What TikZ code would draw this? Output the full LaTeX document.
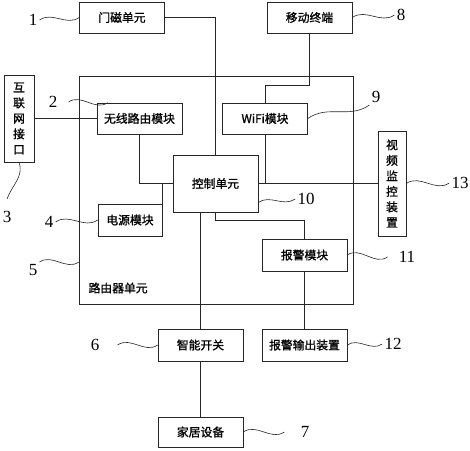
\documentclass[tikz,border=0pt]{standalone}
\usepackage{fontspec}
\setmainfont{Liberation Serif}
\newfontfamily\cjk{Noto Sans CJK SC}[FakeBold=1.2]
\usepackage{tikz}

\begin{document}
\begin{tikzpicture}[x=1pt,y=1pt,line width=0.6pt,
    box/.style={draw=black!85, minimum width=85pt, minimum height=31pt, inner sep=0pt, font=\cjk\fontsize{11.8}{15.5}\selectfont},
    num/.style={inner sep=2pt, font=\fontsize{17}{17}\selectfont},
    wave/.style={out=35,in=215}]
    \useasboundingbox (0,0) rectangle (470,450);
    \node [draw=black!85, minimum width=274pt, minimum height=228pt] (rt) at (216,260) {};
    \node [anchor=west, font=\cjk\fontsize{11.8}{14}\selectfont] (rtname) at (85,162) {路由器单元};
    \node [box] (door) at (122,432.5) {门磁单元};
    \node [box] (mob) at (309.5,432.5) {移动终端};
    \node [box, minimum width=30pt, minimum height=87pt, align=center] (net) at (19,331.5) {互\\联\\网\\接\\口};
    \node [box] (wl) at (139.5,331.5) {无线路由模块};
    \node [box] (wifi) at (265,331.5) {WiFi模块};
    \node [box, minimum height=57pt] (ctrl) at (215.5,266.5) {控制单元};
    \node [box, minimum width=64pt, minimum height=32pt] (pw) at (130,230) {电源模块};
    \node [box, minimum height=32pt] (al) at (304.5,195) {报警模块};
    \node [box, minimum width=28pt, minimum height=105pt, align=center] (vid) at (392,266.5) {视\\频\\监\\控\\装\\置};
    \node [box, minimum height=32pt] (sw) at (200.5,105) {智能开关};
    \node [box, minimum height=32pt] (ao) at (304.5,105) {报警输出装置};
    \node [box, minimum height=30pt] (home) at (200.5,18) {家居设备};

    \draw [black!85] (door.east) -| (ctrl.north);
    \draw [black!85] (net.east) -- (wl.west);
    \draw [black!85] (wl.south) |- (ctrl.west);
    \draw [black!85] (pw.north east) -- (pw.north east |- ctrl.west);
    \draw [black!85] (mob.south) -- ++(0,-52) -| (wifi.north);
    \draw [black!85] (ctrl.east) -- (vid.west);
    \draw [black!85] (wifi.south) -- (wifi.south |- ctrl.east);
    \draw [black!85] (ctrl.south) -- ++(0,-8) -| (al.north);
    \draw [black!85] (sw.north) -- (sw.north |- ctrl.south);
    \draw [black!85] (al.south) -- (ao.north);
    \draw [black!85] (sw.south) -- (home.north);

    \node [num] (n1) at (33,430) {1};
    \node [num] (n2) at (53,348) {2};
    \node [num] (n3) at (7,233) {3};
    \node [num] (n4) at (49,228) {4};
    \node [num] (n5) at (33,180) {5};
    \node [num] (n6) at (95,105) {6};
    \node [num] (n7) at (305,18) {7};
    \node [num] (n8) at (401,435) {8};
    \node [num] (n9) at (376,353) {9};
    \node [num] (n10) at (306,251) {10};
    \node [num] (n11) at (407,193) {11};
    \node [num] (n12) at (393,106) {12};
    \node [num] (n13) at (460,267) {13};

    \draw [black!85] (n1.east) to[wave] (door.west);
    \draw [black!85] ([xshift=9pt]n2.east) to[wave] ([xshift=11pt]wl.north west);
    \draw [black!85] (net.south) to[out=-70,in=70] ([yshift=10pt]n3.north);
    \draw [black!85] (n4.east) to[wave] (pw.west);
    \draw [black!85] (n5.north east) to[wave] (rt.west |- n5.north);
    \draw [black!85] ([xshift=16pt]n6.east) to[wave] (sw.west);
    \draw [black!85] (home.east) to[wave] ([xshift=-14pt]n7.west);
    \draw [black!85] (mob.east) to[wave] (n8.west);
    \draw [black!85] (wifi.east) to[wave] (n9.south west);
    \draw [black!85] ([yshift=-19pt]ctrl.east) to[wave] (n10.west);
    \draw [black!85] (al.east) to[wave] ([xshift=-9pt]n11.west);
    \draw [black!85] (ao.east) to[wave] (n12.west);
    \draw [black!85] (vid.east) to[wave] (n13.west);
\end{tikzpicture}
\end{document}
